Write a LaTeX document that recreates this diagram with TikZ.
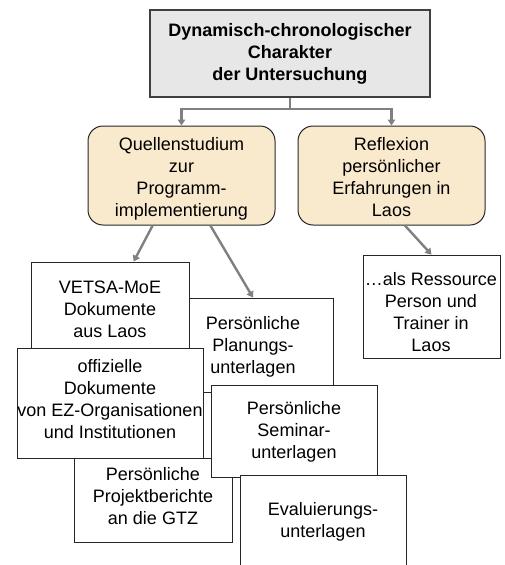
\documentclass[tikz,border=0pt]{standalone}
\usepackage{fontspec}
\setmainfont{Liberation Sans}
\usepackage{tikz}
\usetikzlibrary{arrows.meta}

\definecolor{granite}{RGB}{231,231,231}
\definecolor{parchment}{RGB}{249,234,205}
\definecolor{linkgray}{RGB}{128,128,128}

\tikzset{
	topbox/.style={draw=black!75, line width=1.5pt, fill=granite, minimum width=280pt, minimum height=87pt, inner sep=0pt, align=center, font=\bfseries\fontsize{18}{22}\selectfont},
	themebox/.style={draw=black!85, line width=1pt, fill=parchment, rounded corners=15pt, minimum width=187pt, minimum height=99pt, inner sep=0pt},
	docbox/.style={draw=black!85, line width=0.8pt, fill=white, inner sep=0pt},
	boxtext/.style={align=center, font=\fontsize{18}{22}\selectfont, inner sep=0pt},
	link/.style={draw=linkgray, line width=2.4pt, -{Triangle[length=6pt,width=7.5pt]}},
}

\begin{document}
\begin{tikzpicture}[x=1pt, y=-1pt]
	\clip (0,0) rectangle (504,565);

	\node[topbox] (top) at (290,53.5) {Dynamisch-chronologischer\\Charakter\\der Untersuchung};

	\node[themebox] (quelle) at (181.5,175.5) {};
	\node[boxtext] (quelle text) at (181.5,178.5) {Quellenstudium\\zur\\Programm-\\implementierung};
	\node[themebox] (reflex) at (391.5,175.5) {};
	\node[boxtext] (reflex text) at (391.5,177) {Reflexion\\persönlicher\\Erfahrungen in\\Laos};

	\draw[link] (top.south) -- ++(0,11) -| (quelle.north);
	\draw[link] (top.south) -- ++(0,11) -| (reflex.north);

	\node[docbox, minimum width=160pt, minimum height=94pt] (planung) at (253,345) {};
	\node[boxtext] (planung text) at (253,347) {Persönliche\\Planungs-\\unterlagen};
	\node[docbox, minimum width=158pt, minimum height=96pt] (vetsa) at (110,310) {};
	\node[boxtext] (vetsa text) at (110,309) {VETSA-MoE\\Dokumente\\aus Laos};
	\node[docbox, minimum width=158pt, minimum height=84pt] (projekt) at (153,500) {};
	\node[boxtext] (projekt text) at (153,496) {Persönliche\\Projektberichte\\an die GTZ};
	\node[docbox, minimum width=186pt, minimum height=110pt] (offiziell) at (110,403) {};
	\node[boxtext] (offiziell text) at (110,399) {offizielle\\Dokumente\\von EZ-Organisationen\\und Institutionen};
	\node[docbox, minimum width=166pt, minimum height=92pt] (seminar) at (294,431) {};
	\node[boxtext] (seminar text) at (294,432) {Persönliche\\Seminar-\\unterlagen};
	\node[docbox, minimum width=166pt, minimum height=92pt] (eval) at (323,521) {};
	\node[boxtext] (eval text) at (323,521.5) {Evaluierungs-\\unterlagen};

	\node[docbox, minimum width=137pt, minimum height=103pt] (ressource) at (431.5,306.5) {};
	\node[boxtext] (ressource text) at (431,312) {…als Ressource\\Person und\\Trainer in\\Laos};

	\draw[link] (quelle.240) -- (vetsa.64);
	\draw[link] (quelle.300) -- (planung.north);
	\draw[link] (reflex.285) -- (ressource.north);
\end{tikzpicture}
\end{document}
